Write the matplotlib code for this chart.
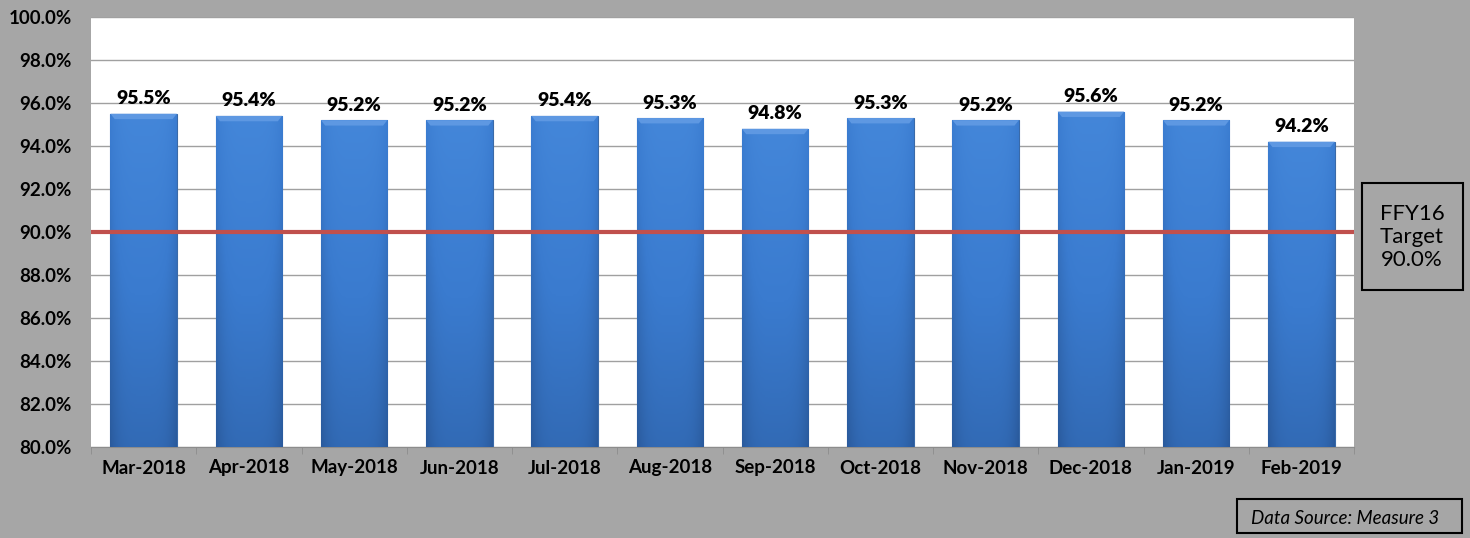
import numpy as np
import matplotlib.pyplot as plt
from matplotlib.patches import Rectangle, Polygon

months = ["Mar-2018", "Apr-2018", "May-2018", "Jun-2018", "Jul-2018", "Aug-2018",
          "Sep-2018", "Oct-2018", "Nov-2018", "Dec-2018", "Jan-2019", "Feb-2019"]
rates = [95.5, 95.4, 95.2, 95.2, 95.4, 95.3, 94.8, 95.3, 95.2, 95.6, 95.2, 94.2]
target = 90.0
yticks = np.arange(80, 100.1, 2)

plt.rcParams['font.family'] = ['Lato', 'DejaVu Sans']

W, H = 1470, 538
bg = "#A6A6A6"
fig = plt.figure(figsize=(W / 100, H / 100), dpi=100, facecolor=bg)
ax = fig.add_axes([91 / W, 1 - 447 / H, (1354 - 91) / W, (447 - 17) / H])
ax.set_facecolor("white")

x = np.arange(len(months))
bw = 0.63
bars = ax.bar(x, rates, width=bw, color="#3B7DD3", edgecolor="#3A6AA8",
              linewidth=0.8, zorder=3)

# shaded fill: darker towards the bottom and the sides
gy = np.linspace(1, 0, 200)[:, None]
gx = np.linspace(-1, 1, 60)[None, :]
shade = 0.25 + 0.55 * gy - 0.25 * gx ** 4
cmap = plt.matplotlib.colors.LinearSegmentedColormap.from_list(
    "barblue", ["#2A5A9C", "#3A7BCF", "#4A8EE0"])
for b, xi, v in zip(bars, x, rates):
    im = ax.imshow(shade, cmap=cmap, vmin=0, vmax=1, aspect="auto",
                   extent=[xi - bw / 2, xi + bw / 2, 80, v], zorder=3.5)
    im.set_clip_path(b)
    # top bevel
    ax.add_patch(Polygon([(xi - bw / 2, v), (xi + bw / 2, v),
                          (xi + bw / 2 - 0.04, v - 0.25), (xi - bw / 2 + 0.04, v - 0.25)],
                         closed=True, facecolor="#5E98E2", edgecolor="none", zorder=4))
    ax.text(xi, v + 0.3, f"{v:.1f}%", ha="center", va="bottom",
            fontsize=14, fontweight="heavy", color="black", zorder=5)

ax.axhline(target, color="#C0504D", linewidth=3, zorder=6)

ax.set_xlim(-0.5, len(months) - 0.5)
ax.set_ylim(80, 100)
ax.set_yticks(yticks)
ax.set_yticklabels([f"{t:.1f}%" for t in yticks], fontsize=13.5, fontweight="bold")
ax.set_xticks(x)
ax.set_xticklabels(months, fontsize=13.5, fontweight="bold")
ax.tick_params(axis="y", length=0, pad=20 - 2 - 4)
ax.tick_params(axis="x", length=0, pad=9)
ax.set_xticks(np.arange(-0.5, len(months)), minor=True)
ax.tick_params(axis="x", which="minor", length=5, color="#8C8C8C")
ax.grid(axis="y", color="#A0A0A0", linewidth=1, zorder=0)
for s in ["top", "right", "left"]:
    ax.spines[s].set_visible(False)
ax.spines["bottom"].set_color("#8C8C8C")

# target box
fig.patches.append(Rectangle((1362 / W, 1 - 290 / H), 101 / W, 107 / H,
                             transform=fig.transFigure, facecolor=bg,
                             edgecolor="black", linewidth=1.5))
fig.text(1412 / W, 1 - 237 / H, "FFY16\nTarget\n90.0%", ha="center", va="center",
         fontsize=16, linespacing=1.2)
# data source box
fig.patches.append(Rectangle((1237 / W, 1 - 533 / H), 225 / W, 34 / H,
                             transform=fig.transFigure, facecolor=bg,
                             edgecolor="black", linewidth=1.5))
fig.text(1345 / W, 1 - 518 / H, "Data Source: Measure 3", ha="center", va="center",
         fontsize=13.5, style="italic")

fig.savefig("out.png", dpi=100, facecolor=bg)
